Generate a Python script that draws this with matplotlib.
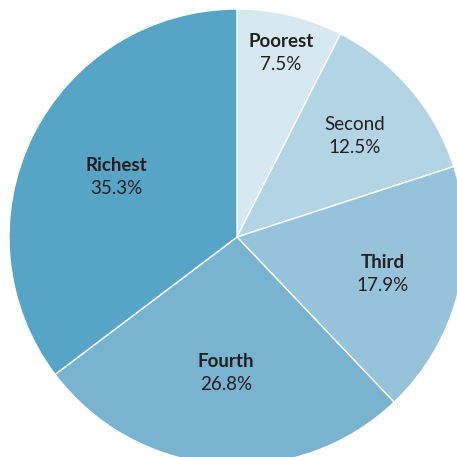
import numpy as np
import matplotlib
matplotlib.use("Agg")
import matplotlib.pyplot as plt

categories = ["Poorest", "Second", "Third", "Fourth", "Richest"]
shares = [7.5, 12.5, 17.9, 26.8, 35.3]
bold_names = [True, False, True, True, True]
colors = ["#d8e8f1", "#b3d4e4", "#96c3da", "#78b3d0", "#56a4c6"]
label_radius = [0.83, 0.68, 0.66, 0.60, 0.59]

plt.rcParams["font.family"] = ["Lato", "DejaVu Sans"]

fig = plt.figure(figsize=(4.57, 4.57), dpi=100)
ax = fig.add_axes([0, 0, 1, 1])

cx, cy, R = 237, 220, 228
wedges, _ = ax.pie(shares, colors=colors, startangle=90, counterclock=False,
                   center=(cx, cy), radius=R, frame=True,
                   wedgeprops=dict(edgecolor="white", linewidth=1.0))
ax.set_xlim(0, 457)
ax.set_ylim(0, 457)
ax.set_aspect("equal")
ax.axis("off")

for w, name, val, b, rf in zip(wedges, categories, shares, bold_names, label_radius):
    mid = np.deg2rad((w.theta1 + w.theta2) / 2)
    x = cx + rf * R * np.cos(mid)
    y = cy + rf * R * np.sin(mid)
    ax.text(x, y + 11.5, name, ha="center", va="center", fontsize=13.5,
            fontweight="bold" if b else "normal", color="#231f20")
    ax.text(x, y - 11.5, f"{val:.1f}%", ha="center", va="center", fontsize=13.5,
            color="#231f20")

fig.savefig("out.png", dpi=100)
